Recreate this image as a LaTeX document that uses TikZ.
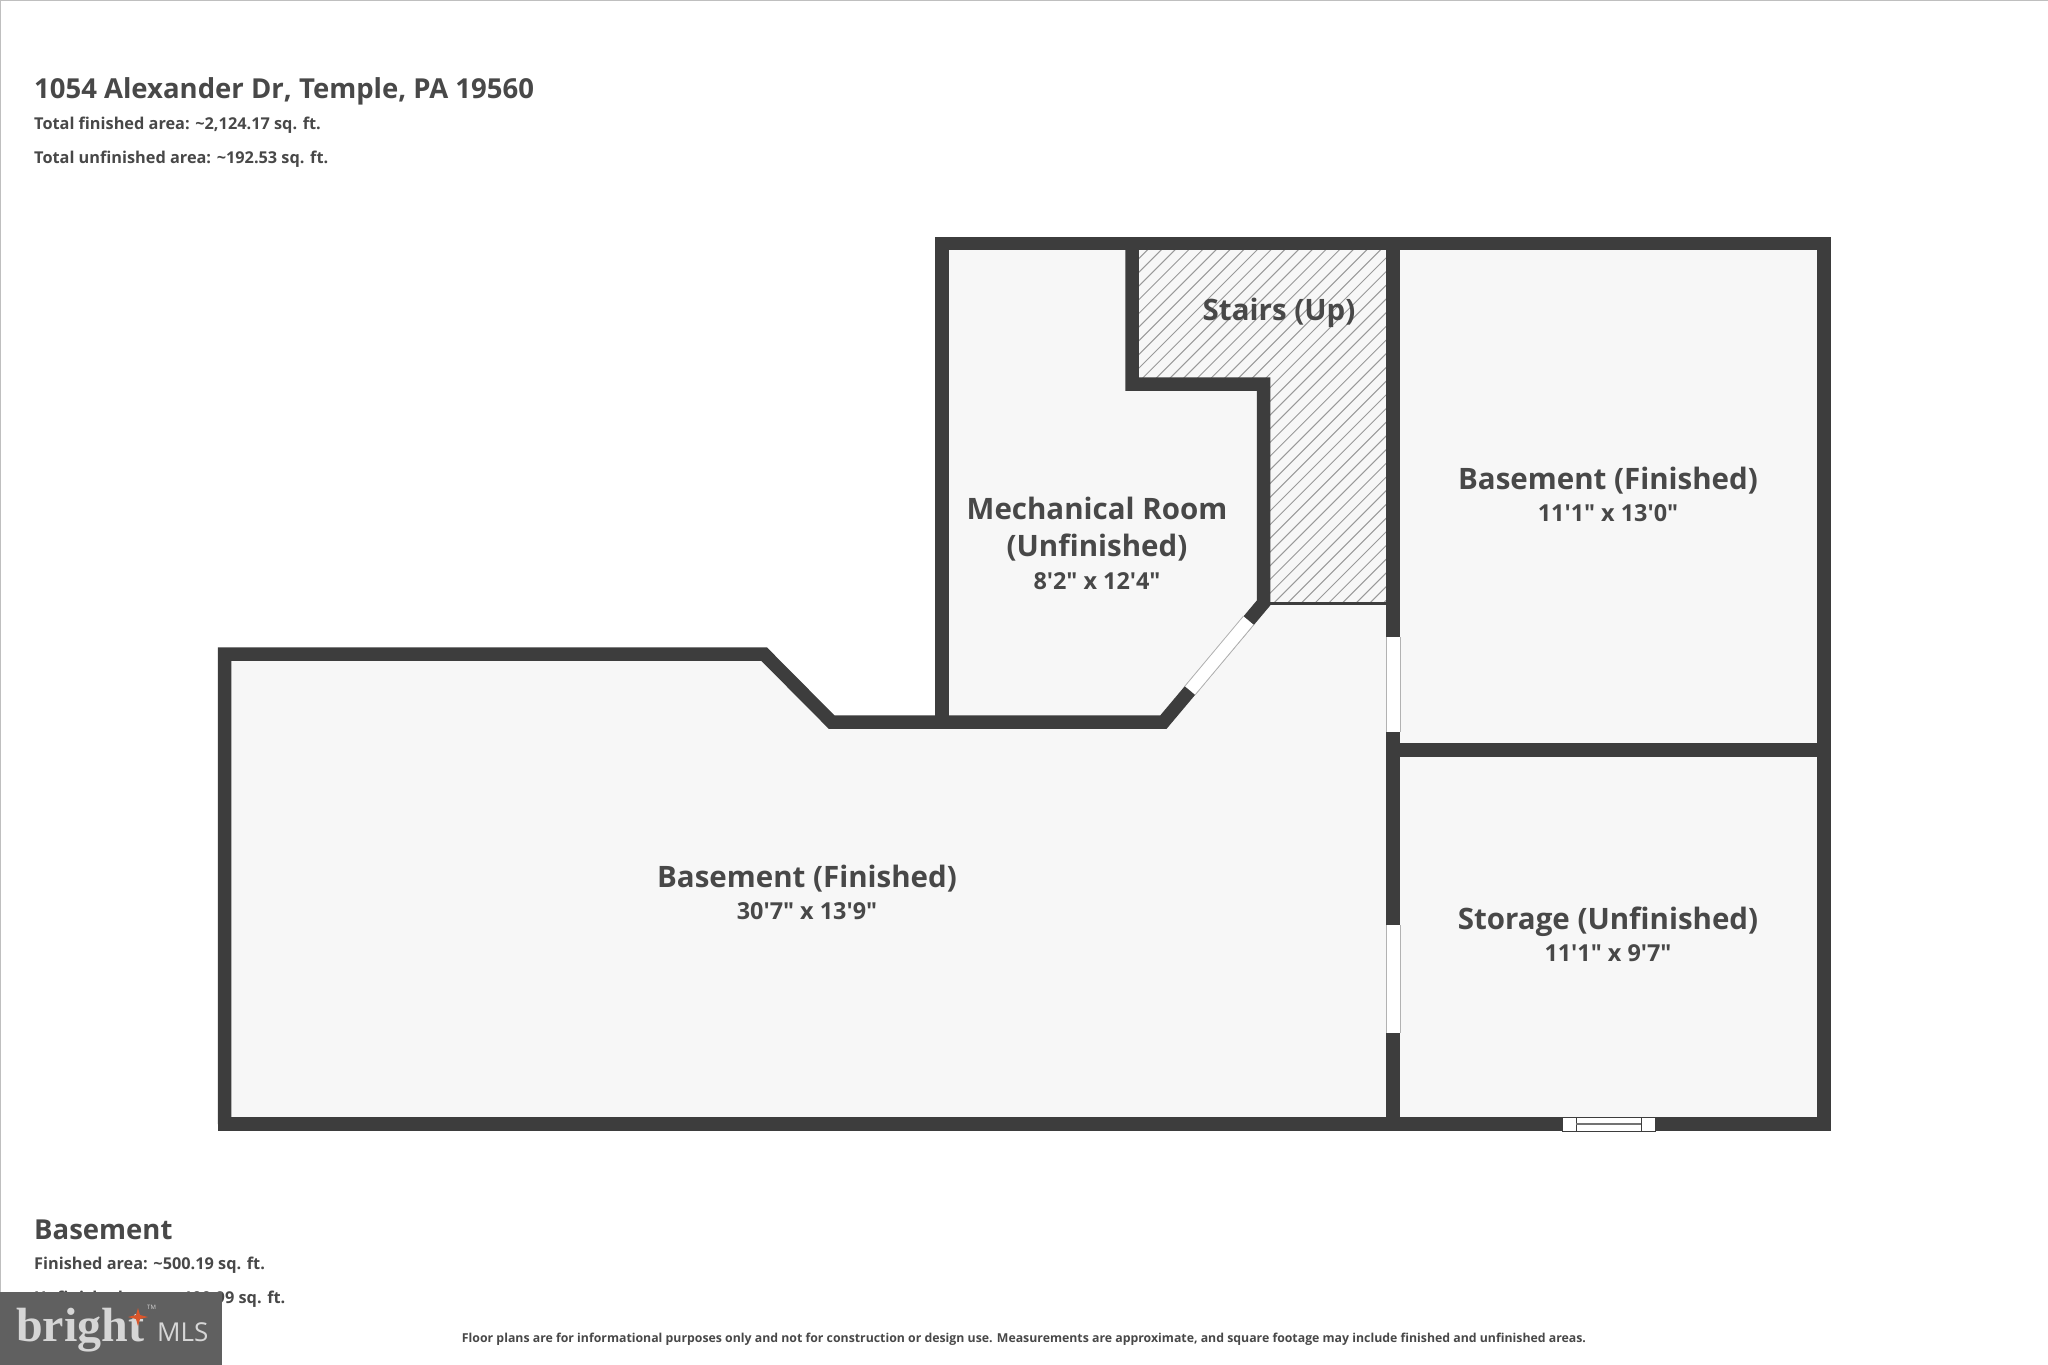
\documentclass[tikz,border=0pt]{standalone}
\usepackage{fontspec}
\setmainfont{Open Sans}
\newfontfamily\logoserif{Liberation Serif}
\newcommand{\ftm}{\textquotesingle}
\newcommand{\inm}{\textquotedbl}
\definecolor{wallc}{HTML}{3D3D3D}
\definecolor{roomc}{HTML}{F7F7F7}
\definecolor{textc}{HTML}{484848}
\definecolor{logoc}{HTML}{606060}
\definecolor{logot}{HTML}{D6D6D6}
\definecolor{sparkc}{HTML}{D9562B}
\tikzset{
  wall/.style={draw=wallc,line width=13.5pt,line join=miter,line cap=butt},
  roomlabel/.style={anchor=base,inner sep=0pt,text=textc,font=\fontsize{29.5}{32}\selectfont\bfseries},
  roomdim/.style={anchor=base,inner sep=0pt,text=textc,font=\fontsize{23.4}{26}\selectfont\bfseries},
  headtext/.style={anchor=base west,inner sep=0pt,text=textc,font=\fontsize{27.5}{30}\selectfont\bfseries},
  subtext/.style={anchor=base west,inner sep=0pt,text=textc,font=\fontsize{16.3}{20}\selectfont\bfseries},
  opening/.style={draw=white,line cap=butt},
  edgeline/.style={draw=black!30,line width=.8pt},
  hatchline/.style={draw=black!40,line width=1pt},
}
\begin{document}
\begin{tikzpicture}[x=1pt,y=-1pt]
\useasboundingbox (0,0) rectangle (2048,1365);
\fill[white] (0,0) rectangle (2048,1365);
\draw[black!25,line width=1.2pt] (0.6,1365) -- (0.6,0.6) -- (2048,0.6);
% rooms
\fill[roomc] (224.5,654) -- (764,654) -- (831.5,722) -- (942,722) -- (942,243.5) -- (1824,243.5) -- (1824,1124) -- (224.5,1124) -- cycle;
% stairs hatch
\begin{scope}
\clip (1132,243.5) -- (1393,243.5) -- (1393,603) -- (1263.5,603) -- (1263.5,384) -- (1132,384) -- cycle;
\foreach \k in {0,...,50}{
  \draw[hatchline] ({1130+\k*13.7},240) -- ({1130+\k*13.7-400},{240+400});
}
\end{scope}
% walls
\draw[wall] (218,1124) -- (224.5,1124) -- (224.5,654) -- (764,654) -- (831.5,722) -- (1163.5,722) -- (1263.5,603) -- (1263.5,384) -- (1132,384) -- (1132,243.5);
\draw[wall] (942,722) -- (942,243.5);
\draw[wall] (935.25,243.5) -- (1824,243.5) -- (1824,1124) -- (218,1124);
\draw[wall] (1393,243.5) -- (1393,1124);
\draw[wall] (1393,750) -- (1824,750);
\draw[wallc,line width=2.6pt] (1270,603.5) -- (1386,603.5);
% openings
\draw[opening,line width=13.5pt] (1190,690.5) -- (1248.5,620.5);
\draw[edgeline] (1184.8,686.2) -- (1243.3,616.2);
\draw[edgeline] (1195.2,694.8) -- (1253.7,624.8);
\draw[opening,line width=13.5pt] (1393,637) -- (1393,732);
\draw[edgeline] (1386,637) -- (1386,732);
\draw[edgeline] (1400,637) -- (1400,732);
\draw[opening,line width=13.5pt] (1393,925) -- (1393,1033);
\draw[edgeline] (1386,925) -- (1386,1033);
\draw[edgeline] (1400,925) -- (1400,1033);
% window
\draw[draw=wallc,fill=white,line width=1pt] (1562,1117) rectangle (1655,1131);
\draw[draw=wallc,line width=1pt] (1576,1117) rectangle (1641,1131);
\draw[draw=black!55,line width=2pt] (1576,1124) -- (1641,1124);
% room labels
\node[roomlabel] (stairs) at (1279,320) {Stairs (Up)};
\node[roomlabel] (bas2) at (1608,489) {Basement (Finished)};
\node[roomdim] (bas2d) at (1608,521) {11\ftm 1\inm{} x 13\ftm 0\inm};
\node[roomlabel] (mech) at (1097,519) {Mechanical Room};
\node[roomlabel] (mech2) at (1097,556.5) {(Unfinished)};
\node[roomdim] (mechd) at (1097,589) {8\ftm 2\inm{} x 12\ftm 4\inm};
\node[roomlabel] (bas1) at (807,887) {Basement (Finished)};
\node[roomdim] (bas1d) at (807,919) {30\ftm 7\inm{} x 13\ftm 9\inm};
\node[roomlabel] (stor) at (1608,929) {Storage (Unfinished)};
\node[roomdim] (stord) at (1608,961) {11\ftm 1\inm{} x 9\ftm 7\inm};
% header
\node[headtext] (title) at (34,98.5) {1054 Alexander Dr, Temple, PA 19560};
\node[subtext] (tf) at (34,129) {Total finished area: \textasciitilde 2,124.17 sq. ft.};
\node[subtext] (tu) at (34,163) {Total unfinished area: \textasciitilde 192.53 sq. ft.};
% floor info
\node[headtext] (floor) at (34,1239.5) {Basement};
\node[subtext] (ff) at (34,1269) {Finished area: \textasciitilde 500.19 sq. ft.};
\node[subtext] (fu) at (34,1303) {Unfinished area: \textasciitilde 100.99 sq. ft.};
% disclaimer
\node[anchor=base,inner sep=0pt,text=textc,font=\fontsize{12.3}{15}\selectfont\bfseries] (note) at (1024,1342) {Floor plans are for informational purposes only and not for construction or design use. Measurements are approximate, and square footage may include finished and unfinished areas.};
% logo
\fill[logoc] (0,1292) rectangle (222,1365);
\node[anchor=base west,inner sep=0pt,text=logot,font=\logoserif\bfseries\fontsize{48}{48}\selectfont] (bright) at (16,1341) {bright};
\node[anchor=base west,inner sep=0pt,text=logot,font=\fontsize{26}{26}\selectfont] (mls) at (157,1341) {MLS};
\node[anchor=base west,inner sep=0pt,text=logot,font=\fontsize{6}{6}\selectfont] (tm) at (147,1309) {TM};
\fill[sparkc] (138,1308) -- (140,1315) -- (148,1317) -- (140,1319) -- (138,1326) -- (136,1319) -- (128,1317) -- (136,1315) -- cycle;
\end{tikzpicture}
\end{document}
